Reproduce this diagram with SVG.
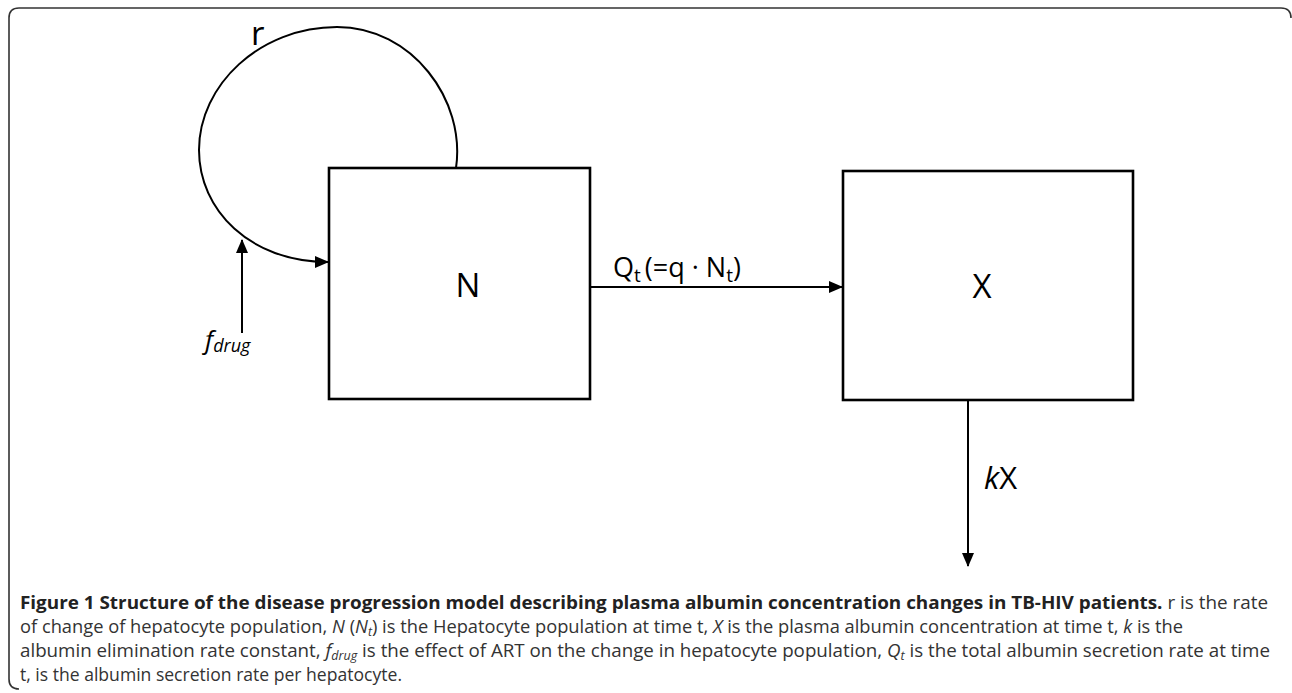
<svg xmlns="http://www.w3.org/2000/svg" width="1292" height="693" viewBox="0 0 1292 693">
<style>
.box{fill:#fff;stroke:#000;stroke-width:2.6}
.conn{fill:none;stroke:#000;stroke-width:2}
.lbl{font-family:"Open Sans","DejaVu Sans",sans-serif;fill:#000}
.cap{font-family:"Open Sans","Liberation Sans",sans-serif;font-size:18px;fill:#333}
.capb{font-weight:bold;fill:#222}
.it{font-style:italic}
</style>
<defs>
<marker id="ah" markerWidth="14" markerHeight="12" refX="13" refY="6" orient="auto" markerUnits="userSpaceOnUse">
<path d="M0,0 L14,6 L0,12 Z" fill="#000"/>
</marker>
</defs>
<rect width="1292" height="693" fill="#fff"/>
<path d="M1291,18 Q1291,8 1281,8 L19,8 Q9,8 9,18 L9,679 Q9,689 19,689" fill="none" stroke="#333" stroke-width="1.6"/>
<g id="node-N">
<rect class="box" x="329" y="168" width="261" height="231"/>
<text class="lbl" x="468" y="297" font-size="33" text-anchor="middle">N</text>
</g>
<g id="node-X">
<rect class="box" x="843" y="171" width="290" height="229"/>
<text class="lbl" x="982" y="298" font-size="33" text-anchor="middle">X</text>
</g>
<g id="connectors">
<path class="conn" d="M456,168 C466,100 412,27 337,27 C260,27 199,85 199,150 C199,210 250,262 328,262" stroke-width="1.8" marker-end="url(#ah)"/>
<line class="conn" x1="242" y1="333" x2="242" y2="240" marker-end="url(#ah)"/>
<line class="conn" x1="590" y1="287" x2="842" y2="287" marker-end="url(#ah)"/>
<line class="conn" x1="968" y1="400" x2="968" y2="566" marker-end="url(#ah)"/>
</g>
<g id="labels">
<text class="lbl" x="251" y="45" font-size="33">r</text>
<text class="lbl" x="613" y="277" font-size="27">Q<tspan font-size="19" dy="5">t</tspan><tspan dy="-5" dx="4">(=q · N</tspan><tspan font-size="19" dy="5">t</tspan><tspan dy="-5">)</tspan></text>
<text class="lbl it" x="205" y="349" font-size="26">f<tspan font-size="18" dy="3">drug</tspan></text>
<text class="lbl" x="984" y="489" font-size="31"><tspan class="it">k</tspan>X</text>
</g>
<g id="caption">
<text class="cap" x="20" y="609" textLength="1248" lengthAdjust="spacingAndGlyphs"><tspan class="capb">Figure 1 Structure of the disease progression model describing plasma albumin concentration changes in TB-HIV patients.</tspan> r is the rate</text>
<text class="cap" x="20" y="633" textLength="1163" lengthAdjust="spacingAndGlyphs">of change of hepatocyte population, <tspan class="it">N</tspan> (<tspan class="it">N</tspan><tspan class="it" font-size="12" dy="3">t</tspan><tspan dy="-3">) is the Hepatocyte population at time t, </tspan><tspan class="it">X</tspan> is the plasma albumin concentration at time t, <tspan class="it">k</tspan> is the</text>
<text class="cap" x="20" y="657" textLength="1250" lengthAdjust="spacingAndGlyphs">albumin elimination rate constant, <tspan class="it">f</tspan><tspan class="it" font-size="12" dy="3">drug</tspan><tspan dy="-3"> is the effect of ART on the change in hepatocyte population, </tspan><tspan class="it">Q</tspan><tspan class="it" font-size="12" dy="3">t</tspan><tspan dy="-3"> is the total albumin secretion rate at time</tspan></text>
<text class="cap" x="20" y="681" textLength="382" lengthAdjust="spacingAndGlyphs">t, is the albumin secretion rate per hepatocyte.</text>
</g>
</svg>
